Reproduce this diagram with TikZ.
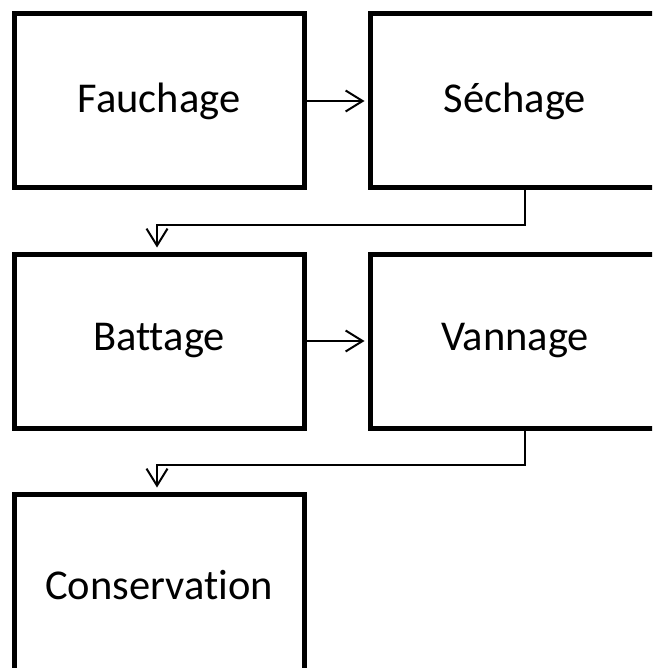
\documentclass[tikz,border=0pt]{standalone}
\usepackage{fontspec}
\setmainfont[Ligatures=NoCommon]{Carlito}
\usetikzlibrary{arrows.meta,calc}
\begin{document}
\begin{tikzpicture}[x=1pt,y=-1pt,
  stepbox/.style={draw=black,line width=5pt,rectangle,minimum width=290pt,
    minimum height=174pt,inner sep=0pt,font=\fontsize{42.5}{50}\selectfont},
  link/.style={draw=black,line width=2pt,
    -{Straight Barb[length=17pt,width=21pt,line width=2pt]}}]
\useasboundingbox (0,0) rectangle (652,668);
\clip (0,0) rectangle (652,668);
\node[stepbox] (fauch) at (159,101) {Fauchage};
\node[stepbox] (sech)  at (515,101) {Séchage};
\node[stepbox] (batt)  at (159,341) {Battage};
\node[stepbox] (vann)  at (515,341) {Vannage};
\node[stepbox,minimum height=182pt] (cons) at (159,585) {Conservation};
% left-to-right steps
\draw[link,shorten >=3pt] (fauch.east) -- (sech.west);
\draw[link,shorten >=3pt] (batt.east) -- (vann.west);
% row changes
\coordinate (s1) at ($(sech.south)+(10,0)$);
\coordinate (s2) at ($(vann.south)+(10,0)$);
\draw[link,shorten >=4pt] (s1) -- ++(0,34) -| ($(batt.north)+(-2,0)$);
\draw[link,shorten >=4pt] (s2) -- ++(0,34) -| ($(cons.north)+(-2,0)$);
\end{tikzpicture}
\end{document}
